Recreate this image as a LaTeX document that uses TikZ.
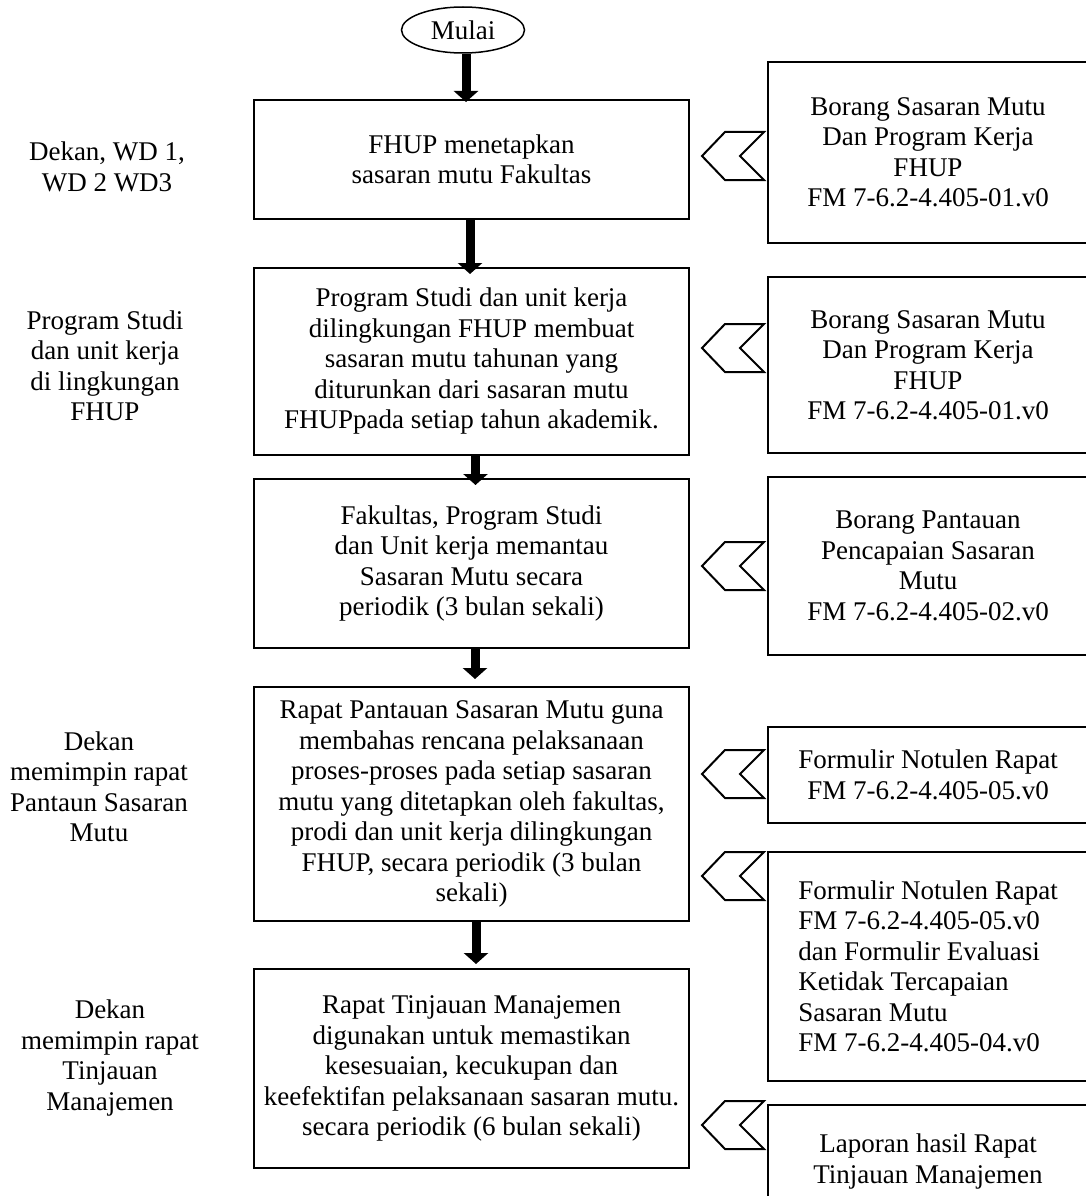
\documentclass[tikz,border=0pt]{standalone}
\usepackage{fontspec}
\setmainfont{Liberation Serif}
\usetikzlibrary{shapes.geometric,arrows.meta}

\tikzset{
  every node/.style={font=\fontsize{27}{30.5}\selectfont},
  stepbox/.style={draw,line width=2pt,minimum width=435pt,align=center,inner sep=0pt},
  docbox/.style={draw,line width=2pt,minimum width=320pt,align=center,inner sep=0pt},
  actor/.style={align=center},
  flow/.style={line width=9pt,-{Triangle[width=24pt,length=11pt]}},
  chev/.style={line width=2pt,line join=miter}
}

\begin{document}
\begin{tikzpicture}[x=1pt,y=-1pt]
                % Fix the page size
                \useasboundingbox (0,0) rectangle (1086,1196);
                \clip (0,0) rectangle (1086,1196);
                % Start and the steps
                \node[ellipse,draw,line width=1.5pt,minimum width=123pt,minimum height=46pt,inner sep=0pt] (start) at (463,30) {Mulai};
                \node[stepbox,minimum height=119pt] (s1) at (471.5,159.5) {FHUP menetapkan\\sasaran mutu Fakultas};
                \node[stepbox,minimum height=187pt] (s2) at (471.5,361.5) {Program Studi dan unit kerja\\dilingkungan FHUP membuat\\sasaran mutu tahunan yang\\diturunkan dari sasaran mutu\\FHUPpada setiap tahun akademik.};
                \node[stepbox,minimum height=169pt] (s3) at (471.5,563.5) {Fakultas, Program Studi\\dan Unit kerja memantau\\Sasaran Mutu secara\\periodik (3 bulan sekali)};
                \node[stepbox,minimum height=234pt] (s4) at (471.5,804) {Rapat Pantauan Sasaran Mutu guna\\membahas rencana pelaksanaan\\proses-proses pada setiap sasaran\\mutu yang ditetapkan oleh fakultas,\\prodi dan unit kerja dilingkungan\\FHUP, secara periodik (3 bulan\\sekali)};
                \node[stepbox,minimum height=199pt] (s5) at (471.5,1068.5) {Rapat Tinjauan Manajemen\\digunakan untuk memastikan\\kesesuaian, kecukupan dan\\keefektifan pelaksanaan sasaran mutu.\\secara periodik (6 bulan sekali)};
                % Arrows between the steps
                \draw[flow] ([xshift=3pt]start.south) -- ([xshift=3pt,yshift=-3pt]start.south |- s1.north);
                \draw[flow] ([xshift=-1.5pt]s1.south) -- ([xshift=-1.5pt,yshift=-7pt]s2.north);
                \draw[flow] ([xshift=4pt]s2.south) -- ([xshift=4pt,yshift=-7pt]s3.north);
                \draw[flow] ([xshift=3.5pt]s3.south) -- ([xshift=3.5pt,yshift=7pt]s4.north);
                \draw[flow] ([xshift=4.5pt]s4.south) -- ([xshift=4.5pt,yshift=4pt]s5.north);
                % Who does it
                \node[actor] (a1) at (107,167) {Dekan, WD 1,\\WD 2 WD3};
                \node[actor] (a2) at (105,366) {Program Studi\\dan unit kerja\\di lingkungan\\FHUP};
                \node[actor] (a3) at (99,787) {Dekan\\memimpin rapat\\Pantaun Sasaran\\Mutu};
                \node[actor] (a4) at (110,1058) {Dekan\\memimpin rapat\\Tinjauan\\Manajemen};
                % Forms used
                \node[docbox,minimum height=181pt] (d1) at (928,152.5) {Borang Sasaran Mutu\\Dan Program Kerja\\FHUP\\FM 7-6.2-4.405-01.v0};
                \node[docbox,minimum height=176pt] (d2) at (928,365) {Borang Sasaran Mutu\\Dan Program Kerja\\FHUP\\FM 7-6.2-4.405-01.v0};
                \node[docbox,minimum height=178pt] (d3) at (928,566) {Borang Pantauan\\Pencapaian Sasaran\\Mutu\\FM 7-6.2-4.405-02.v0};
                \node[docbox,minimum height=96pt] (d4) at (928,775) {Formulir Notulen Rapat\\FM 7-6.2-4.405-05.v0};
                \node[docbox,minimum height=229pt,align=left] (d5) at (928,966.5) {Formulir Notulen Rapat\\FM 7-6.2-4.405-05.v0\\dan Formulir Evaluasi\\Ketidak Tercapaian\\Sasaran Mutu\\FM 7-6.2-4.405-04.v0};
                \node[docbox,minimum height=113pt] (d6) at (928,1161.5) {Laporan hasil Rapat\\Tinjauan Manajemen};
                % Chevrons in front of the forms
                \foreach \cy in {156,348,566,774,876,1125}{
                    \draw[chev] (764,\cy-24) -- (725,\cy-24) -- (702,\cy) -- (725,\cy+24) -- (764,\cy+24) -- (740,\cy) -- cycle;
                }
            \end{tikzpicture}
\end{document}
